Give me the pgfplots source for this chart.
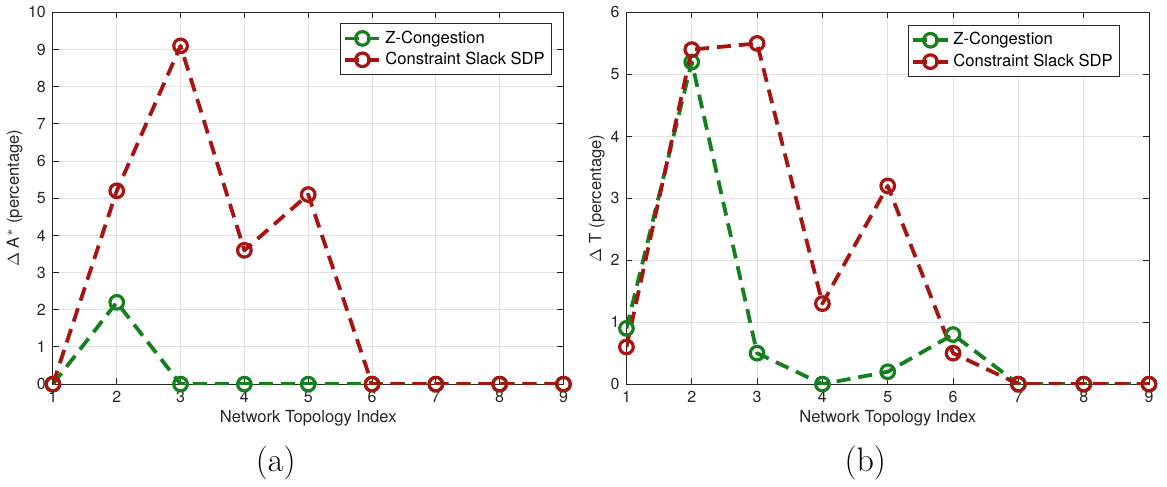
\documentclass[border=0pt]{standalone}
\usepackage{pgfplots}
\pgfplotsset{compat=1.18}
\usepackage{fontspec}
\newfontfamily\helv{TeX Gyre Heros}
\definecolor{zgreen}{RGB}{22,128,30}
\definecolor{cred}{RGB}{168,20,18}
\definecolor{axgray}{RGB}{38,38,38}
\definecolor{gridgray}{RGB}{225,225,225}

\pgfplotsset{
  panel/.style={
    scale only axis,
    width=255.5pt, height=186pt,
    xmin=1, xmax=9, ymin=0,
    xtick={1,...,9},
    axis line style={axgray, line width=0.5pt},
    tick style={axgray, line width=0.5pt},
    tick align=inside,
    major tick length=3pt,
    grid=major,
    grid style={gridgray, line width=0.5pt},
    ticklabel style={font=\helv\fontsize{8}{9}\selectfont, text=axgray},
    /pgf/number format/assume math mode=true,
    label style={font=\helv\fontsize{8.3}{10}\selectfont, text=axgray},
    xlabel={Network Topology Index},
    xlabel style={yshift=3pt},
    ylabel style={yshift=-4pt},
    legend style={font=\helv\fontsize{8.3}{10}\selectfont, draw=axgray,
      line width=0.5pt, fill=white, inner sep=1.5pt, row sep=-1pt,
      cells={anchor=west}},
    legend cell align=left,
    every axis plot/.append style={line width=1.9pt,
      dash pattern=on 7pt off 4pt, line join=round,
      mark=o, mark size=3.4pt, mark options={solid, line width=1.6pt}},
  }
}

\begin{document}
\begin{tikzpicture}
\path (-26pt,-48.5pt) rectangle (557.5pt,189.5pt);

\begin{axis}[panel, name=left, ymax=10, ytick={0,...,10},
  ylabel={$\Delta$ A$^*$ (percentage)},
  legend style={at={(rel axis cs:0.978,0.971)}, anchor=north east}]
\addplot[zgreen] coordinates {(1,0) (2,2.2) (3,0) (4,0) (5,0) (6,0) (7,0) (8,0) (9,0)};
\addlegendentry{Z-Congestion}
\addplot[cred] coordinates {(1,0) (2,5.2) (3,9.1) (4,3.6) (5,5.1) (6,0) (7,0) (8,0) (9,0)};
\addlegendentry{Constraint Slack SDP}
\end{axis}

\begin{axis}[panel, name=right, xshift=287pt, width=261.5pt, ymax=6, ytick={0,...,6},
  ylabel={$\Delta$ T (percentage)},
  legend style={at={(rel axis cs:0.945,0.966)}, anchor=north east}]
\addplot[zgreen] coordinates {(1,0.9) (2,5.2) (3,0.5) (4,0) (5,0.2) (6,0.8) (7,0) (8,0) (9,0)};
\addlegendentry{Z-Congestion}
\addplot[cred] coordinates {(1,0.6) (2,5.4) (3,5.5) (4,1.3) (5,3.2) (6,0.5) (7,0) (8,0) (9,0)};
\addlegendentry{Constraint Slack SDP}
\end{axis}

% sub-figure captions
\node[font=\fontsize{17}{20}\selectfont, anchor=base] at (111.5pt,-43.5pt) {(a)};
\node[font=\fontsize{17}{20}\selectfont, anchor=base] at (406.5pt,-43.5pt) {(b)};
\end{tikzpicture}
\end{document}
